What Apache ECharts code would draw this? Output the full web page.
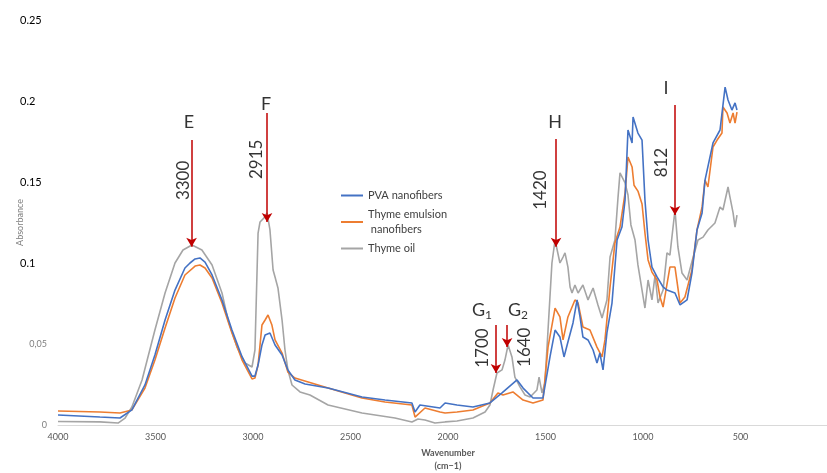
<!DOCTYPE html>
<html>
<head>
<meta charset="utf-8">
<script src="https://cdn.jsdelivr.net/npm/echarts@6/dist/echarts.min.js"></script>
<style>
  html, body { margin: 0; padding: 0; background: #fff; }
  #chart { width: 827px; height: 473px; }
</style>
</head>
<body>
<div id="chart"></div>
<script>
// series names
var seriesNames = ['PVA nanofibers', 'Thyme emulsion\n nanofibers', 'Thyme oil'];

// [wavenumber, absorbance]
var pvaData = [
  [4000,0.0062],[3785,0.0049],[3682,0.0043],[3621,0.0093],[3554,0.0247],[3503,0.0432],[3451,0.0648],
  [3400,0.0833],[3349,0.0969],[3323,0.1],[3297,0.1025],[3272,0.1031],[3246,0.1006],[3210,0.0926],
  [3159,0.0772],[3108,0.0586],[3056,0.042],[3005,0.0302],[2990,0.0302],[2974,0.037],[2954,0.0494],
  [2938,0.0556],[2913,0.0568],[2887,0.0494],[2851,0.0432],[2821,0.034],[2785,0.0278],[2733,0.0253],
  [2615,0.0228],[2441,0.0173],[2323,0.0154],[2185,0.0136],[2169,0.008],[2144,0.0123],[2041,0.0105],
  [2015,0.0136],[1954,0.0123],[1872,0.0111],[1785,0.0136],[1723,0.0198],[1646,0.0278],[1615,0.0228],
  [1564,0.0167],[1513,0.0167],[1477,0.042],[1451,0.0586],[1426,0.0543],[1405,0.042],[1385,0.0512],
  [1359,0.063],[1338,0.0772],[1323,0.0667],[1308,0.0543],[1282,0.0525],[1256,0.0463],[1236,0.0383],
  [1221,0.0444],[1205,0.034],[1185,0.0568],[1159,0.0753],[1133,0.1142],[1108,0.1222],[1092,0.1389],
  [1077,0.1821],[1056,0.1741],[1051,0.1901],[1026,0.1802],[1005,0.1759],[990,0.1389],[974,0.1142],
  [954,0.0975],[928,0.0914],[897,0.0852],[877,0.0833],[836,0.0815],[810,0.0741],[774,0.0772],
  [749,0.0938],[723,0.1204],[697,0.1309],[682,0.1512],[641,0.1741],[605,0.1821],[579,0.2086],
  [564,0.2006],[544,0.1944],[528,0.1988],[518,0.1944]
];

var emulsionData = [
  [4000,0.0086],[3785,0.008],[3682,0.0074],[3621,0.0093],[3554,0.0228],[3503,0.0401],[3451,0.0599],
  [3400,0.0784],[3349,0.0926],[3297,0.0981],[3272,0.0988],[3246,0.0969],[3210,0.0907],[3159,0.0753],
  [3108,0.0568],[3056,0.0401],[3005,0.0284],[2990,0.029],[2974,0.037],[2954,0.0617],[2938,0.0648],
  [2923,0.0679],[2903,0.0617],[2887,0.0525],[2851,0.0444],[2821,0.0327],[2785,0.029],[2615,0.0228],
  [2441,0.0167],[2323,0.0142],[2185,0.0123],[2169,0.0049],[2118,0.0105],[2041,0.008],[2015,0.0074],
  [1954,0.008],[1872,0.0093],[1785,0.0136],[1744,0.0198],[1718,0.0185],[1667,0.0204],[1615,0.0154],
  [1564,0.0136],[1513,0.0154],[1487,0.0481],[1451,0.0722],[1426,0.0667],[1410,0.0525],[1385,0.0667],
  [1349,0.0772],[1333,0.0753],[1308,0.0605],[1272,0.0586],[1236,0.0481],[1210,0.042],[1195,0.0525],
  [1169,0.0852],[1144,0.1123],[1118,0.1222],[1092,0.1432],[1077,0.1654],[1056,0.1593],[1046,0.148],
  [1026,0.1444],[1005,0.1364],[990,0.1185],[974,0.1019],[954,0.0944],[928,0.0895],[913,0.079],
  [897,0.0728],[862,0.0975],[836,0.0975],[810,0.0753],[785,0.079],[749,0.0957],[723,0.1204],
  [697,0.1346],[682,0.1512],[667,0.1469],[641,0.1716],[620,0.1759],[595,0.1802],[590,0.1963],
  [569,0.1926],[554,0.1864],[538,0.1926],[528,0.1864],[518,0.1932]
];

var oilData = [
  [4000,0.0022],[3785,0.0019],[3692,0.0012],[3656,0.0043],[3621,0.0111],[3569,0.0278],[3503,0.0586],
  [3451,0.0815],[3400,0.1],[3359,0.108],[3313,0.1111],[3262,0.108],[3210,0.0988],[3159,0.0815],
  [3128,0.0648],[3082,0.0481],[3041,0.0383],[3005,0.0358],[2990,0.0463],[2974,0.1185],[2964,0.1253],
  [2944,0.1278],[2928,0.1309],[2913,0.1204],[2897,0.0957],[2887,0.0914],[2872,0.0846],[2851,0.0648],
  [2836,0.0463],[2821,0.034],[2800,0.0247],[2759,0.0204],[2708,0.0185],[2615,0.0123],[2441,0.0074],
  [2272,0.0043],[2185,0.0019],[2154,0.0037],[2118,0.0031],[2067,0.0012],[2015,0.0019],[1954,0.0025],
  [1872,0.0043],[1810,0.008],[1785,0.0123],[1769,0.0216],[1749,0.0321],[1723,0.034],[1708,0.0401],
  [1692,0.0494],[1672,0.042],[1657,0.0296],[1631,0.0235],[1605,0.0185],[1579,0.0173],[1544,0.0216],
  [1533,0.0296],[1518,0.0198],[1503,0.0259],[1487,0.0586],[1467,0.1],[1451,0.1142],[1426,0.1],
  [1410,0.1037],[1400,0.1062],[1385,0.0975],[1374,0.0852],[1364,0.0815],[1349,0.0864],[1333,0.0815],
  [1308,0.0864],[1282,0.0772],[1256,0.0846],[1231,0.0741],[1210,0.066],[1185,0.0772],[1169,0.1037],
  [1144,0.1142],[1128,0.1407],[1118,0.1556],[1108,0.1562],[1092,0.1494],[1077,0.142],[1062,0.1235],
  [1041,0.1142],[1026,0.0988],[1005,0.0833],[990,0.0722],[974,0.0895],[954,0.0772],[938,0.0926],
  [923,0.0753],[897,0.0833],[877,0.1062],[862,0.1049],[836,0.1327],[821,0.1099],[800,0.0938],
  [774,0.0895],[744,0.1031],[718,0.1142],[692,0.116],[667,0.1204],[631,0.1247],[605,0.1346],
  [590,0.1327],[564,0.1469],[554,0.1407],[538,0.1309],[528,0.1222],[518,0.1296]
];

var seriesColors = ['#4472C4', '#ED7D31', '#A5A5A5'];

// peak annotations: arrow position, arrow top, arrow tip
var peakX   = [3315, 2928, 1754, 1697, 1446, 836];
var peakTop = [0.176, 0.1926, 0.0617, 0.0617, 0.1765, 0.1975];
var peakTip = [0.110, 0.1253, 0.0321, 0.0481, 0.110, 0.1296];

// letters above arrows
var letterText = ['E', 'F', 'G{s|1}', 'G{s|2}', 'H', 'I'];
var letterPos  = [[3328,0.187],[2933,0.198],[1826,0.071],[1641,0.071],[1451,0.187],[882,0.208]];

// rotated wavenumber labels
var numText = ['3300', '2915', '1700', '1640', '1420', '812'];
var numPos  = [[3354,0.151],[2980,0.164],[1821,0.0475],[1610,0.048],[1523,0.145],[903,0.162]];

// y tick labels: big black ones and small grey ones, like the picture
var bigTicks = [0.1, 0.15, 0.2, 0.25];

var myChart = echarts.init(document.getElementById('chart'), null, { renderer: 'canvas' });

var series = [];
var allData = [pvaData, emulsionData, oilData];
for (var i = 0; i < 3; i++) {
  series.push({
    name: seriesNames[i],
    type: 'line',
    data: allData[i],
    showSymbol: false,
    symbol: 'none',
    smooth: false,
    lineStyle: { color: seriesColors[i], width: 1.6 },
    itemStyle: { color: seriesColors[i] },
    z: 3 - i
  });
}

// arrows
var arrowLines = [];
for (var a = 0; a < peakX.length; a++) {
  arrowLines.push([{ coord: [peakX[a], peakTop[a]] }, { coord: [peakX[a], peakTip[a]] }]);
}

var textPoints = [];
for (var t = 0; t < letterText.length; t++) {
  textPoints.push({
    value: letterPos[t],
    label: {
      show: true, formatter: letterText[t], position: 'inside',
      fontSize: 18, color: '#000', fontFamily: 'Lato',
      rich: { s: { fontSize: 12, color: '#000', fontFamily: 'Lato', padding: [10, 0, 0, 0] } }
    }
  });
}
for (var n = 0; n < numText.length; n++) {
  textPoints.push({
    value: numPos[n],
    label: {
      show: true, formatter: numText[n], position: 'inside', rotate: 90,
      fontSize: 17, color: '#000', fontFamily: 'Lato'
    }
  });
}

series.push({
  name: 'notes',
  type: 'scatter',
  data: textPoints,
  symbolSize: 1,
  itemStyle: { color: 'rgba(0,0,0,0)' },
  silent: true,
  z: 10,
  markLine: {
    silent: true,
    symbol: ['none', 'arrow'],
    symbolSize: [8, 9],
    label: { show: false },
    lineStyle: { color: '#C00000', width: 1.5, type: 'solid' },
    emphasis: { disabled: true },
    data: arrowLines
  }
});

var option = {
  animation: false,
  backgroundColor: '#fff',
  grid: { left: 58, right: -11, top: 20, bottom: 48, containLabel: false, outerBoundsMode: 'none' },
  legend: {
    data: seriesNames,
    orient: 'vertical',
    left: 336,
    top: 183,
    itemGap: 4,
    itemWidth: 22,
    itemHeight: 2,
    icon: 'rect',
    textStyle: { fontSize: 11, color: '#404040', fontFamily: 'Lato', lineHeight: 15 }
  },
  xAxis: {
    type: 'value',
    min: 0,
    max: 4000,
    interval: 500,
    inverse: true,
    name: 'Wavenumber\n(cm\u22121)',
    nameLocation: 'middle',
    nameGap: 22,
    nameMoveOverlap: false,
    nameTextStyle: { fontSize: 9, fontWeight: 'bold', color: '#595959', lineHeight: 13, fontFamily: 'Lato' },
    axisLine: { show: true, lineStyle: { color: '#D9D9D9', width: 1 } },
    axisTick: { show: false },
    splitLine: { show: false },
    axisLabel: {
      fontSize: 9, color: '#595959', margin: 8, fontFamily: 'Lato',
      formatter: function (v) { return String(v); }
    }
  },
  yAxis: {
    type: 'value',
    min: 0,
    max: 0.25,
    interval: 0.05,
    name: 'Absorbance',
    nameLocation: 'middle',
    nameGap: 33,
    nameMoveOverlap: false,
    nameTextStyle: { fontSize: 9, color: '#7F7F7F', fontFamily: 'Lato' },
    axisLine: { show: true, lineStyle: { color: '#D9D9D9', width: 1 } },
    axisTick: { show: false },
    splitLine: { show: false },
    axisLabel: {
      margin: 11,
      formatter: function (v) {
        var r = Math.round(v * 100) / 100;
        if (bigTicks.indexOf(r) >= 0) return '{b|' + r + '}';
        if (r === 0) return '{s|0}';
        return '{s|' + String(r).replace('.', ',') + '}';
      },
      rich: {
        b: { fontSize: 11, color: '#000', fontFamily: 'Lato', width: 27, align: 'left' },
        s: { fontSize: 9, color: '#7F7F7F', fontFamily: 'Lato' }
      }
    }
  },
  series: series
};

myChart.setOption(option);
</script>
</body>
</html>
